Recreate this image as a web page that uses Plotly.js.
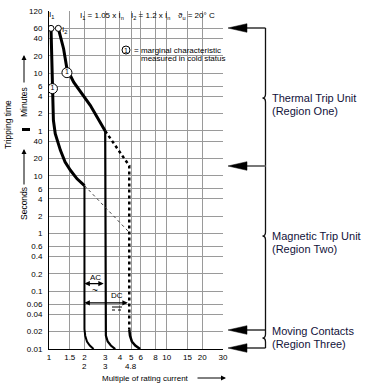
<!DOCTYPE html>
<html><head><meta charset="utf-8">
<script src="https://cdn.plot.ly/plotly-3.0.1.min.js"></script>
<style>html,body{margin:0;padding:0;background:#fff}#chart{width:372px;height:385px}</style>
</head><body><div id="chart"></div>
<script>
// ---- data ----
const xTickVals = [1, 1.5, 2, 3, 4, 5, 6, 8, 10, 15, 20, 30];
const xTickText = ['1', '1.5', '2', '3', '4', '5', '6', '8', '10', '15', '20', '30'];
const xSecondRowAt = [2, 3, 5];
const xSecondRowText = ['2', '3', '4.8'];
const minuteTicks = [120, 60, 40, 20, 10, 6, 4, 2, 1];
const secondTicks = [40, 20, 10, 6, 4, 2, 1, 0.6, 0.4, 0.2, 0.1, 0.06, 0.04, 0.02, 0.01];

// lower band limit (starts at I1)
const lowerThermX = [1.04, 1.07, 1.09, 1.13, 1.25, 1.37, 1.52, 1.73, 2.0];
const lowerThermT = [3600, 325, 92, 54, 27.7, 17.4, 12.5, 8.9, 6.8];
const lowerMagX = [2.0, 2.0, 2.03, 2.1, 2.22, 2.39];
const lowerMagT = [6.8, 0.022, 0.017, 0.0135, 0.0115, 0.01];
// upper band limit AC (starts at I2)
const upperThermX = [1.2, 1.33, 1.42, 1.62, 2.24, 3.0];
const upperThermT = [3600, 1600, 720, 420, 167, 60];
const upperMagX = [3.0, 3.0, 3.04, 3.15, 3.35, 3.65];
const upperMagT = [60, 0.022, 0.017, 0.0135, 0.0115, 0.01];
// DC upper limit (dotted) and its foot
const dcUpperX = [3.0, 4.8, 4.8];
const dcUpperT = [60, 15, 0.022];
const dcFootX = [4.8, 4.87, 5.05, 5.4, 5.94];
const dcFootT = [0.022, 0.017, 0.0135, 0.0115, 0.01];
// DC lower limit (thin dotted)
const dcLowerX = [2.0, 4.8];
const dcLowerT = [6.8, 1.05];
// start points I1, I2
const startX = [1.04, 1.2];
const startT = [3600, 3600];
const startText = ['I<sub>1</sub>', 'I<sub>2</sub>'];
// cold-status marginal points (1)
const coldX = [1.07, 1.42];
const coldT = [325, 615];
// AC / DC ranges
const acRange = [2, 3];
const dcRange = [2, 4.8];
const acArrowT = 0.136;
const dcArrowT = 0.063;
// regions
const regionTitles = ['Thermal Trip Unit', 'Magnetic Trip Unit', 'Moving Contacts'];
const regionSubs = ['(Region One)', '(Region Two)', '(Region Three)'];

// ---- layout helpers (pixel -> paper) ----
const L = 49, TOP = 11, W = 174, H = 338;
const px = x => (x - L) / W;
const py = y => (TOP + H - y) / H;
const lg = Math.log10;
const FONT = 'Liberation Sans, Arial, sans-serif';
const NARROW = 'Liberation Sans Narrow, Arial Narrow, Liberation Sans, sans-serif';
const NAVY = '#12123a';

const traces = [
  {x: lowerThermX, y: lowerThermT, mode: 'lines', line: {color: '#000', width: 3}},
  {x: lowerMagX, y: lowerMagT, mode: 'lines', line: {color: '#000', width: 2}},
  {x: upperThermX, y: upperThermT, mode: 'lines', line: {color: '#000', width: 3}},
  {x: upperMagX, y: upperMagT, mode: 'lines', line: {color: '#000', width: 2.2}},
  {x: dcUpperX, y: dcUpperT, mode: 'lines', line: {color: '#000', width: 2.5, dash: 'dot'}},
  {x: dcFootX, y: dcFootT, mode: 'lines', line: {color: '#000', width: 2.5}},
  {x: dcLowerX, y: dcLowerT, mode: 'lines', line: {color: '#444', width: 1, dash: 'dot'}},
  {x: startX, y: startT, mode: 'markers', marker: {symbol: 'circle', size: 6, color: '#fff', line: {color: '#000', width: 1}}},
  {x: coldX, y: coldT, mode: 'markers+text', text: ['1', '1'], textposition: 'middle center',
   textfont: {family: FONT, size: 7, color: '#000'},
   marker: {symbol: 'circle', size: 10, color: '#fff', line: {color: '#000', width: 1}}}
];

const ann = [];
function txt(text, x, y, o) {
  ann.push(Object.assign({text: text, x: px(x), y: py(y), xref: 'paper', yref: 'paper', showarrow: false,
    xanchor: 'center', yanchor: 'middle', font: {family: FONT, size: 8, color: '#000'}}, o || {}));
}
// start labels
txt(startText[0], 51, 15, {font: {family: FONT, size: 8}});
txt(startText[1], 64, 30, {font: {family: FONT, size: 8}});
// header
txt('I<sub>1</sub> = 1.05 x I<sub>n</sub>', 102, 16, {font: {family: NARROW, size: 8}});
txt('I<sub>2</sub> = 1.2 x I<sub>n</sub>', 150, 16, {font: {family: NARROW, size: 8}});
txt('\u03d1<sub>u</sub> = 20° C', 196, 16, {font: {family: NARROW, size: 8}});
txt('1', 126, 50, {font: {family: FONT, size: 7}});
txt('= marginal characteristic', 132, 50, {xanchor: 'left', font: {family: NARROW, size: 8}});
txt('measured in cold status', 139, 58, {xanchor: 'left', font: {family: NARROW, size: 8}});
// second row of x labels
xSecondRowAt.forEach((v, i) => {
  ann.push({text: xSecondRowText[i], x: lg(v), y: py(366), xref: 'x', yref: 'paper', showarrow: false,
    xanchor: 'center', yanchor: 'middle', font: {family: NARROW, size: 8, color: '#000'}});
});
// axis titles
txt('Multiple of rating current', 145, 378, {font: {family: FONT, size: 8}});
ann.push({text: '', x: px(226), y: py(378), xref: 'paper', yref: 'paper', showarrow: true, ax: -30, ay: 0,
  axref: 'pixel', ayref: 'pixel', arrowhead: 2, arrowsize: 1, arrowwidth: 1, arrowcolor: '#000', standoff: 0});
txt('Tripping time', 8, 125, {textangle: -90, font: {family: FONT, size: 8.5}});
txt('Minutes', 24, 102, {textangle: -90, font: {family: FONT, size: 8.5}});
txt('Seconds', 24, 204, {textangle: -90, font: {family: FONT, size: 8.5}});
ann.push({text: '', x: px(24), y: py(55), xref: 'paper', yref: 'paper', showarrow: true, ax: 0, ay: 29,
  axref: 'pixel', ayref: 'pixel', arrowhead: 2, arrowsize: 1, arrowwidth: 1, arrowcolor: '#000', standoff: 0});
ann.push({text: '', x: px(24), y: py(149), xref: 'paper', yref: 'paper', showarrow: true, ax: 0, ay: 37,
  axref: 'pixel', ayref: 'pixel', arrowhead: 2, arrowsize: 1, arrowwidth: 1, arrowcolor: '#000', standoff: 0});
// AC / DC arrows
ann.push({text: '', x: lg(acRange[0]), y: lg(acArrowT), ax: lg(acRange[1]), ay: lg(acArrowT), xref: 'x', yref: 'y',
  axref: 'x', ayref: 'y', showarrow: true, arrowside: 'end+start', arrowhead: 2, arrowsize: 0.9, arrowwidth: 1.2,
  arrowcolor: '#000', standoff: 0, startstandoff: 0});
ann.push({text: '', x: lg(dcRange[0]), y: lg(dcArrowT), ax: lg(dcRange[1]), ay: lg(dcArrowT), xref: 'x', yref: 'y',
  axref: 'x', ayref: 'y', showarrow: true, arrowside: 'end+start', arrowhead: 2, arrowsize: 0.9, arrowwidth: 1.2,
  arrowcolor: '#000', standoff: 0, startstandoff: 0});
txt('AC', 95, 277, {font: {family: NARROW, size: 8}});
txt('~', 95, 290, {font: {family: FONT, size: 10}});
txt('DC', 117, 295, {font: {family: NARROW, size: 8}});
// region labels
const regionY = [98, 236, 331];
regionTitles.forEach((t, i) => {
  txt(t, 270, regionY[i], {xanchor: 'left', font: {family: FONT, size: 11, color: NAVY}});
  txt(regionSubs[i], 270, regionY[i] + 13, {xanchor: 'left', font: {family: FONT, size: 11, color: NAVY}});
});

// shapes (paper)
const shapes = [];
const P = (x, y) => px(x).toFixed(5) + ',' + py(y).toFixed(5);
function pline(x0, y0, x1, y1, color, width, dash) {
  shapes.push({type: 'line', xref: 'paper', yref: 'paper', x0: px(x0), y0: py(y0), x1: px(x1), y1: py(y1),
    line: {color: color, width: width, dash: dash || 'solid'}});
}
// DC symbol
pline(112, 307, 122, 307, '#000', 1);
pline(112, 310, 122, 310, '#000', 1, 'dot');
// legend circle
shapes.push({type: 'circle', xref: 'paper', yref: 'paper', x0: px(122), x1: px(130), y0: py(54), y1: py(46),
  line: {color: '#000', width: 1}, fillcolor: 'rgba(255,255,255,0)'});
// tripping time bar
shapes.push({type: 'rect', xref: 'paper', yref: 'paper', x0: px(22), x1: px(30), y0: py(131), y1: py(128),
  line: {width: 0}, fillcolor: '#000'});
// brace
const bx = 265.5, tip = 262.5;
const braceD = 'M' + P(bx, 28) + ' L' + P(bx, 94) + ' Q' + P(bx, 98) + ' ' + P(tip, 98) + ' Q' + P(bx, 98) + ' ' + P(bx, 102) +
  ' L' + P(bx, 232) + ' Q' + P(bx, 236) + ' ' + P(tip, 236) + ' Q' + P(bx, 236) + ' ' + P(bx, 240) +
  ' L' + P(bx, 334) + ' Q' + P(bx, 338) + ' ' + P(tip, 338) + ' Q' + P(bx, 338) + ' ' + P(bx, 342) + ' L' + P(bx, 348);
shapes.push({type: 'path', xref: 'paper', yref: 'paper', path: braceD, line: {color: '#111', width: 1.3}});
// arrows to the chart
[[28, '#111'], [166, '#777'], [330, '#111'], [348, '#111']].forEach(([y, c]) => {
  pline(246, y, bx, y, c, c === '#777' ? 2 : 1.3);
  shapes.push({type: 'path', xref: 'paper', yref: 'paper',
    path: 'M' + P(228, y) + ' L' + P(247, y - 4.3) + ' L' + P(247, y + 4.3) + ' Z',
    fillcolor: '#000', line: {color: '#000', width: 0.5}});
});

const yTickVals = minuteTicks.map(m => m * 60).concat(secondTicks);
const yTickText = minuteTicks.map(String).concat(secondTicks.map(String));

const layout = {
  width: 372, height: 385,
  margin: {l: L, r: 372 - L - W, t: TOP, b: 385 - TOP - H, pad: 0},
  paper_bgcolor: '#fff', plot_bgcolor: '#fff', showlegend: false,
  font: {family: FONT, size: 8, color: '#000'},
  xaxis: {type: 'log', range: [0, lg(30)], tickvals: xTickVals, ticktext: xTickText,
    showgrid: true, gridcolor: '#9a9a9a', gridwidth: 1, showline: true, linecolor: '#000', linewidth: 1,
    ticks: '', zeroline: false, tickfont: {family: NARROW, size: 8, color: '#000'}, ticklabelstandoff: 0},
  yaxis: {type: 'log', range: [-2, lg(7200)], tickvals: yTickVals, ticktext: yTickText,
    showgrid: true, gridcolor: '#9a9a9a', gridwidth: 1, showline: true, linecolor: '#000', linewidth: 1,
    ticks: '', zeroline: false, tickfont: {family: NARROW, size: 8, color: '#000'}, ticklabelstandoff: 4},
  annotations: ann,
  shapes: shapes
};

Plotly.newPlot('chart', traces, layout, {displayModeBar: false, staticPlot: true});
</script>
</body></html>
